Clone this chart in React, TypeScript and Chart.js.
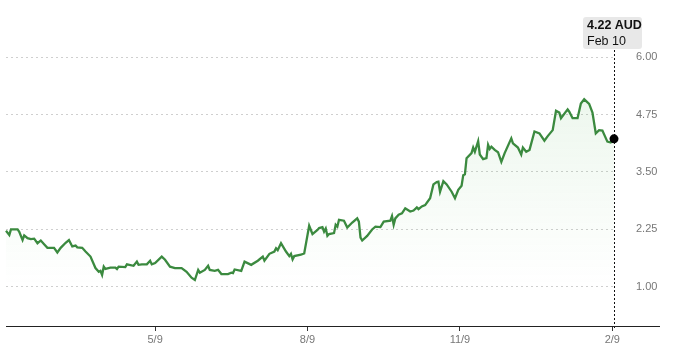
import React, { useEffect, useRef } from "react";
import { Chart, registerables } from "chart.js";

Chart.register(...registerables);

// Day offsets from START_DATE (2024-02-09) and closing prices (AUD)
const START_DATE = "2024-02-09";
const dayOffsets = [
  0, 2, 3, 7, 8, 10, 11, 13, 15, 17, 19, 21, 23, 25, 29, 31, 33, 36, 38, 40,
  42, 43, 46, 48, 51, 54, 56, 57, 58, 59, 60, 63, 66, 67, 68, 72, 73, 77, 79, 80,
  82, 85, 87, 88, 90, 94, 96, 99, 102, 106, 109, 112, 114, 116, 117, 120, 122, 123, 126, 128,
  130, 134, 136, 137, 138, 142, 144, 148, 152, 155, 156, 159, 162, 163, 164, 166, 169, 171, 172, 173,
  174, 178, 180, 183, 185, 188, 189, 191, 192, 193, 194, 195, 198, 199, 200, 201, 204, 206, 209, 212,
  213, 214, 215, 218, 221, 223, 226, 228, 232, 233, 234, 235, 237, 239, 241, 244, 246, 248, 249, 251,
  253, 256, 258, 260, 261, 262, 264, 266, 269, 271, 273, 275, 276, 277, 278, 281, 282, 283, 285, 286,
  288, 290, 291, 292, 293, 295, 297, 299, 301, 305, 306, 309, 311, 312, 314, 316, 319, 322, 325, 327,
  330, 332, 334, 335, 339, 340, 342, 345, 347, 349, 352, 354, 356, 358, 360, 363, 365, 367,
];
const prices = [
  2.22, 2.13, 2.25, 2.25, 2.2, 2.02, 2.12, 2.06, 2.04, 2.05, 1.95, 2.01, 1.93, 1.85, 1.85, 1.75, 1.85, 1.96, 2.02, 1.88,
  1.9, 1.86, 1.85, 1.77, 1.66, 1.41, 1.33, 1.35, 1.26, 1.44, 1.39, 1.42, 1.42, 1.39, 1.44, 1.43, 1.49, 1.46, 1.55, 1.48,
  1.49, 1.49, 1.57, 1.49, 1.52, 1.66, 1.59, 1.44, 1.41, 1.41, 1.33, 1.2, 1.15, 1.37, 1.31, 1.37, 1.46, 1.37, 1.35, 1.37,
  1.28, 1.28, 1.31, 1.3, 1.38, 1.35, 1.55, 1.48, 1.57, 1.66, 1.57, 1.72, 1.77, 1.84, 1.8, 1.95, 1.77, 1.67, 1.72, 1.6,
  1.67, 1.7, 1.73, 2.33, 2.15, 2.24, 2.28, 2.3, 2.2, 2.27, 2.11, 2.15, 2.17, 2.35, 2.31, 2.46, 2.44, 2.29, 2.4, 2.49,
  2.42, 2.07, 2.01, 2.11, 2.25, 2.31, 2.3, 2.42, 2.44, 2.54, 2.35, 2.49, 2.57, 2.6, 2.71, 2.64, 2.66, 2.73, 2.69, 2.75,
  2.78, 2.93, 3.23, 3.28, 3.29, 3.07, 3.3, 3.23, 3.07, 2.93, 3.11, 3.2, 3.43, 3.45, 3.8, 3.91, 4.03, 3.94, 4.17, 3.88,
  3.78, 3.8, 4.09, 4.0, 4.05, 3.98, 3.93, 3.72, 3.91, 4.23, 4.12, 4.03, 3.88, 4.03, 3.94, 3.98, 4.38, 4.34, 4.18, 4.28,
  4.41, 4.83, 4.79, 4.67, 4.86, 4.81, 4.67, 4.67, 4.99, 5.08, 4.98, 4.79, 4.34, 4.41, 4.4, 4.16, 4.14, 4.22,
];

const xTickDays = [90, 182, 274, 366];
const xTickLabels = ["5/9", "8/9", "11/9", "2/9"];
const yTickValues = [1.0, 2.25, 3.5, 4.75, 6.0];
const currency = "AUD";
const lastDateLabel = "Feb 10";

const X_MIN = 0;
const X_MAX = 367;
const Y_MIN = 0.15;
const Y_MAX = 6.0;

const LINE_COLOR = "#3b8a3f";
const FONT = "'Liberation Sans', Arial, sans-serif";

export default function App() {
  const canvasRef = useRef<HTMLCanvasElement | null>(null);

  useEffect(() => {
    const canvas = canvasRef.current;
    if (!canvas) return;

    const points = dayOffsets.map((d, i) => ({ x: d, y: prices[i] }));
    const lastIndex = points.length - 1;

    const overlayPlugin = {
      id: "overlay",
      beforeDatasetsDraw(chart: any) {
        const { ctx, chartArea, scales } = chart;
        const x = Math.round(scales.x.getPixelForValue(points[lastIndex].x)) + 0.5;
        ctx.save();
        ctx.strokeStyle = "#111";
        ctx.lineWidth = 1;
        ctx.setLineDash([2, 2]);
        ctx.beginPath();
        ctx.moveTo(x, 50);
        ctx.lineTo(x, chartArea.bottom + 4);
        ctx.stroke();
        ctx.restore();
      },
      afterDraw(chart: any) {
        const { ctx, chartArea, scales } = chart;
        // x-axis baseline extended under the y labels
        ctx.save();
        ctx.strokeStyle = "#222";
        ctx.lineWidth = 1;
        ctx.beginPath();
        ctx.moveTo(chartArea.left, Math.round(chartArea.bottom) + 0.5);
        ctx.lineTo(660, Math.round(chartArea.bottom) + 0.5);
        ctx.stroke();

        // tooltip box
        const px = scales.x.getPixelForValue(points[lastIndex].x);
        const boxW = 59;
        const boxH = 32;
        const bx = px - 31;
        const by = 17;
        ctx.fillStyle = "#e8e8e8";
        ctx.beginPath();
        const r = 3;
        ctx.moveTo(bx + r, by);
        ctx.lineTo(bx + boxW - r, by);
        ctx.quadraticCurveTo(bx + boxW, by, bx + boxW, by + r);
        ctx.lineTo(bx + boxW, by + boxH - r);
        ctx.quadraticCurveTo(bx + boxW, by + boxH, bx + boxW - r, by + boxH);
        ctx.lineTo(bx + r, by + boxH);
        ctx.quadraticCurveTo(bx, by + boxH, bx, by + boxH - r);
        ctx.lineTo(bx, by + r);
        ctx.quadraticCurveTo(bx, by, bx + r, by);
        ctx.fill();

        ctx.fillStyle = "#111";
        ctx.textAlign = "left";
        ctx.textBaseline = "middle";
        ctx.font = `bold 12.5px ${FONT}`;
        ctx.fillText(`${prices[lastIndex].toFixed(2)} ${currency}`, bx + 4, by + 9);
        ctx.font = `12.5px ${FONT}`;
        ctx.fillText(lastDateLabel, bx + 4, by + 25);
        ctx.restore();
      },
    };

    const chart = new Chart(canvas, {
      type: "line",
      data: {
        datasets: [
          {
            data: points,
            borderColor: LINE_COLOR,
            borderWidth: 2.3,
            tension: 0,
            clip: false,
            fill: "start",
            backgroundColor: (c: any) => {
              const area = c.chart.chartArea;
              if (!area) return "rgba(76,175,80,0.08)";
              const g = c.chart.ctx.createLinearGradient(0, area.top, 0, area.bottom);
              g.addColorStop(0, "rgba(76,175,80,0.12)");
              g.addColorStop(0.85, "rgba(76,175,80,0)");
              return g;
            },
            pointRadius: (c: any) => (c.dataIndex === lastIndex ? 4.5 : 0),
            pointHoverRadius: 0,
            pointBackgroundColor: "#000",
            pointBorderColor: "#000",
            pointBorderWidth: 0,
          },
        ],
      },
      options: {
        responsive: false,
        animation: false,
        events: [],
        layout: { padding: { left: 6, top: 57, right: 0, bottom: 0 } },
        plugins: {
          legend: { display: false },
          tooltip: { enabled: false },
        },
        scales: {
          x: {
            type: "linear",
            position: "bottom",
            min: X_MIN,
            max: X_MAX,
            afterBuildTicks: (s: any) => {
              s.ticks = xTickDays.map((v) => ({ value: v }));
            },
            afterFit: (s: any) => {
              s.height = 29;
            },
            ticks: {
              autoSkip: false,
              maxRotation: 0,
              padding: 2,
              color: "#777",
              font: { family: FONT, size: 11 },
              callback: (v: any) => {
                const i = xTickDays.indexOf(Number(v));
                return i >= 0 ? xTickLabels[i] : "";
              },
            },
            grid: {
              drawOnChartArea: false,
              drawTicks: true,
              tickLength: 5,
              color: "#333",
              lineWidth: 1,
            },
            border: { display: false },
          },
          y: {
            type: "linear",
            position: "right",
            min: Y_MIN,
            max: Y_MAX,
            afterBuildTicks: (s: any) => {
              s.ticks = yTickValues.map((v) => ({ value: v }));
            },
            afterFit: (s: any) => {
              s.width = 66;
            },
            ticks: {
              padding: 22,
              color: "#777",
              font: { family: FONT, size: 11 },
              callback: (v: any) => Number(v).toFixed(2),
            },
            grid: {
              drawTicks: false,
              color: "#cfcfcf",
              lineWidth: 1,
            },
            border: { display: false, dash: [2, 3] },
          },
        },
      },
      plugins: [overlayPlugin],
    } as any);

    return () => chart.destroy();
  }, []);

  return (
    <div style={{ position: "fixed", left: 0, top: 0, width: 680, height: 355, background: "#fff" }}>
      <canvas ref={canvasRef} width={680} height={355} style={{ display: "block" }} />
    </div>
  );
}
